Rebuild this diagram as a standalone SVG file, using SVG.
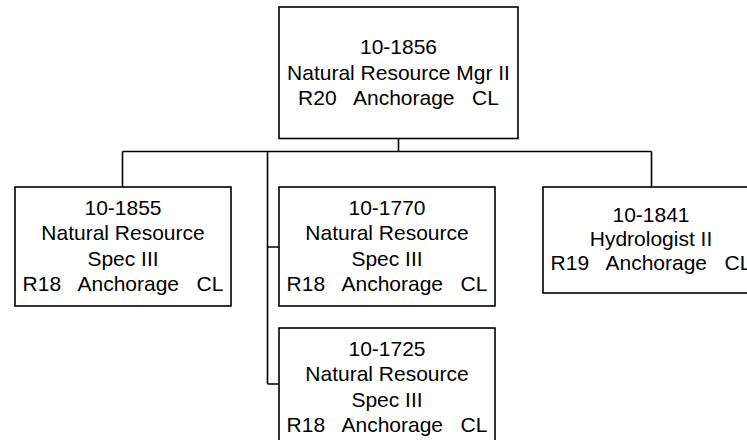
<svg xmlns="http://www.w3.org/2000/svg" width="747" height="440" viewBox="0 0 747 440">
<style>
.box{fill:#fff;stroke:#000;stroke-width:1.6}
.ln{fill:none;stroke:#000;stroke-width:1.6}
text{font-family:"Liberation Sans",Arial,sans-serif;font-size:21px;fill:#000;text-anchor:middle;white-space:pre}
</style>
<rect width="747" height="440" fill="#fff"/>
<g id="connectors">
<path class="ln" d="M398.5,138.5 V151.5 M122.5,151.5 H651.5 M122.5,151.5 V187 M651.5,151.5 V187 M267.5,151.5 V384 M267.5,247 H279 M267.5,384 H279"/>
</g>
<g id="n1856">
<rect class="box" x="279" y="7" width="239" height="131.5"/>
<text x="398.5" y="54">10-1856</text>
<text x="398.5" y="79.5">Natural Resource Mgr II</text>
<text x="398.5" y="105">R20   Anchorage   CL</text>
</g>
<g id="n1855">
<rect class="box" x="15" y="187" width="216" height="119"/>
<text x="123" y="215">10-1855</text>
<text x="123" y="240.3">Natural Resource</text>
<text x="123" y="265.6">Spec III</text>
<text x="123" y="291">R18   Anchorage   CL</text>
</g>
<g id="n1770">
<rect class="box" x="279" y="187" width="216" height="119"/>
<text x="387" y="215">10-1770</text>
<text x="387" y="240.3">Natural Resource</text>
<text x="387" y="265.6">Spec III</text>
<text x="387" y="291">R18   Anchorage   CL</text>
</g>
<g id="n1725">
<rect class="box" x="279" y="328" width="216" height="119"/>
<text x="387" y="356">10-1725</text>
<text x="387" y="381.3">Natural Resource</text>
<text x="387" y="406.6">Spec III</text>
<text x="387" y="432">R18   Anchorage   CL</text>
</g>
<g id="n1841">
<rect class="box" x="543" y="187" width="216" height="106"/>
<text x="651" y="222">10-1841</text>
<text x="651" y="246">Hydrologist II</text>
<text x="651" y="270">R19   Anchorage   CL</text>
</g>
</svg>
